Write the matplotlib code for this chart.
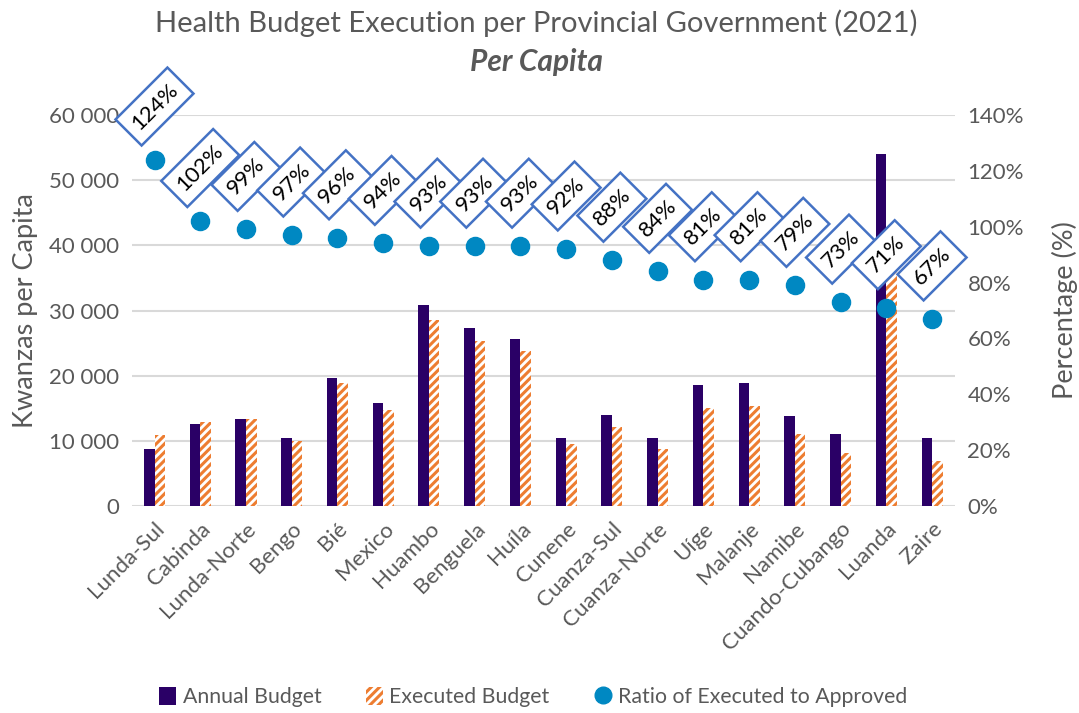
import matplotlib.pyplot as plt
import numpy as np
from matplotlib.patches import Patch
from matplotlib.lines import Line2D
from matplotlib.ticker import FuncFormatter

plt.rcParams['font.family'] = ['Lato', 'DejaVu Sans']
plt.rcParams['hatch.linewidth'] = 2.2

provinces = ['Lunda-Sul', 'Cabinda', 'Lunda-Norte', 'Bengo', 'Bié', 'Mexico', 'Huambo',
             'Benguela', 'Huíla', 'Cunene', 'Cuanza-Sul', 'Cuanza-Norte', 'Uíge',
             'Malanje', 'Namibe', 'Cuando-Cubango', 'Luanda', 'Zaire']
annual = [8800, 12600, 13400, 10400, 19700, 15800, 30800, 27300, 25600,
          10400, 14000, 10500, 18600, 18900, 13900, 11100, 54000, 10400]
executed = [10900, 12900, 13300, 10000, 18900, 14800, 28600, 25400, 23800,
            9600, 12200, 8800, 15100, 15300, 11000, 8100, 37000, 7000]
ratio = [1.24, 1.02, 0.99, 0.97, 0.96, 0.94, 0.93, 0.93, 0.93,
         0.92, 0.88, 0.84, 0.81, 0.81, 0.79, 0.73, 0.71, 0.67]

gray = '#595959'
fig = plt.figure(figsize=(10.79, 7.13), dpi=100)
ax = fig.add_axes([0.122, 0.290, 0.763, 0.549])
x = np.arange(len(provinces))
w = 0.23

ax.bar(x - w / 2, annual, w, color='#2A0066', zorder=2)
ax.bar(x + w / 2, executed, w, facecolor='white', edgecolor='#ED7D31',
       hatch='////', linewidth=0, zorder=2)

ax.set_ylim(0, 60000)
ax.set_xlim(-0.5, len(provinces) - 0.5)
ax.set_yticks(range(0, 60001, 10000))
ax.yaxis.set_major_formatter(FuncFormatter(lambda v, p: f'{int(v):,}'.replace(',', ' ')))
ax.grid(axis='y', color='#D9D9D9', linewidth=1.5, zorder=0)
ax.set_axisbelow(True)
for s in ax.spines.values():
    s.set_visible(False)
ax.tick_params(length=0, labelsize=16, colors=gray, pad=9)
ax.set_xticks(x)
ax.set_xticklabels(provinces, rotation=45, ha='right', rotation_mode='anchor')
ax.set_ylabel('Kwanzas per Capita', fontsize=19.5, color=gray, labelpad=8)

ax2 = ax.twinx()
ax2.set_ylim(0, 1.4)
ax2.set_yticks(np.arange(0, 1.41, 0.2))
ax2.yaxis.set_major_formatter(FuncFormatter(lambda v, p: f'{v * 100:.0f}%'))
for s in ax2.spines.values():
    s.set_visible(False)
ax2.tick_params(length=0, labelsize=16, colors=gray, pad=9)
ax2.set_ylabel('Percentage (%)', fontsize=19.5, color=gray, labelpad=20)

ax2.scatter(x, ratio, s=170, color='#0088C2', zorder=3, clip_on=False)
for xi, r in zip(x, ratio):
    ax2.annotate(f'{r * 100:.0f}%', (xi, r), xytext=(0, 53), textcoords='offset pixels',
                 ha='center', va='center', rotation=45, fontsize=16, color='black',
                 bbox=dict(boxstyle='square,pad=0.38', fc='white', ec='#4472C4', lw=1.8),
                 zorder=4, annotation_clip=False)

fig.text(0.497, 0.968, 'Health Budget Execution per Provincial Government (2021)',
         ha='center', va='center', fontsize=21, color=gray)
fig.text(0.497, 0.913, 'Per Capita', ha='center', va='center', fontsize=21.5,
         color=gray, fontweight='bold', fontstyle='italic')

handles = [Patch(facecolor='#2A0066'),
           Patch(facecolor='white', edgecolor='#ED7D31', hatch='////', linewidth=0),
           Line2D([], [], marker='o', linestyle='', color='#0088C2', markersize=12)]
fig.legend(handles, ['Annual Budget', 'Executed Budget', 'Ratio of Executed to Approved'],
           loc='center', bbox_to_anchor=(0.494, 0.022), ncol=3, frameon=False,
           fontsize=15.3, labelcolor=gray, handlelength=0.8, handleheight=0.9,
           handletextpad=0.3, columnspacing=2.1)

fig.savefig('out.png', dpi=100)
